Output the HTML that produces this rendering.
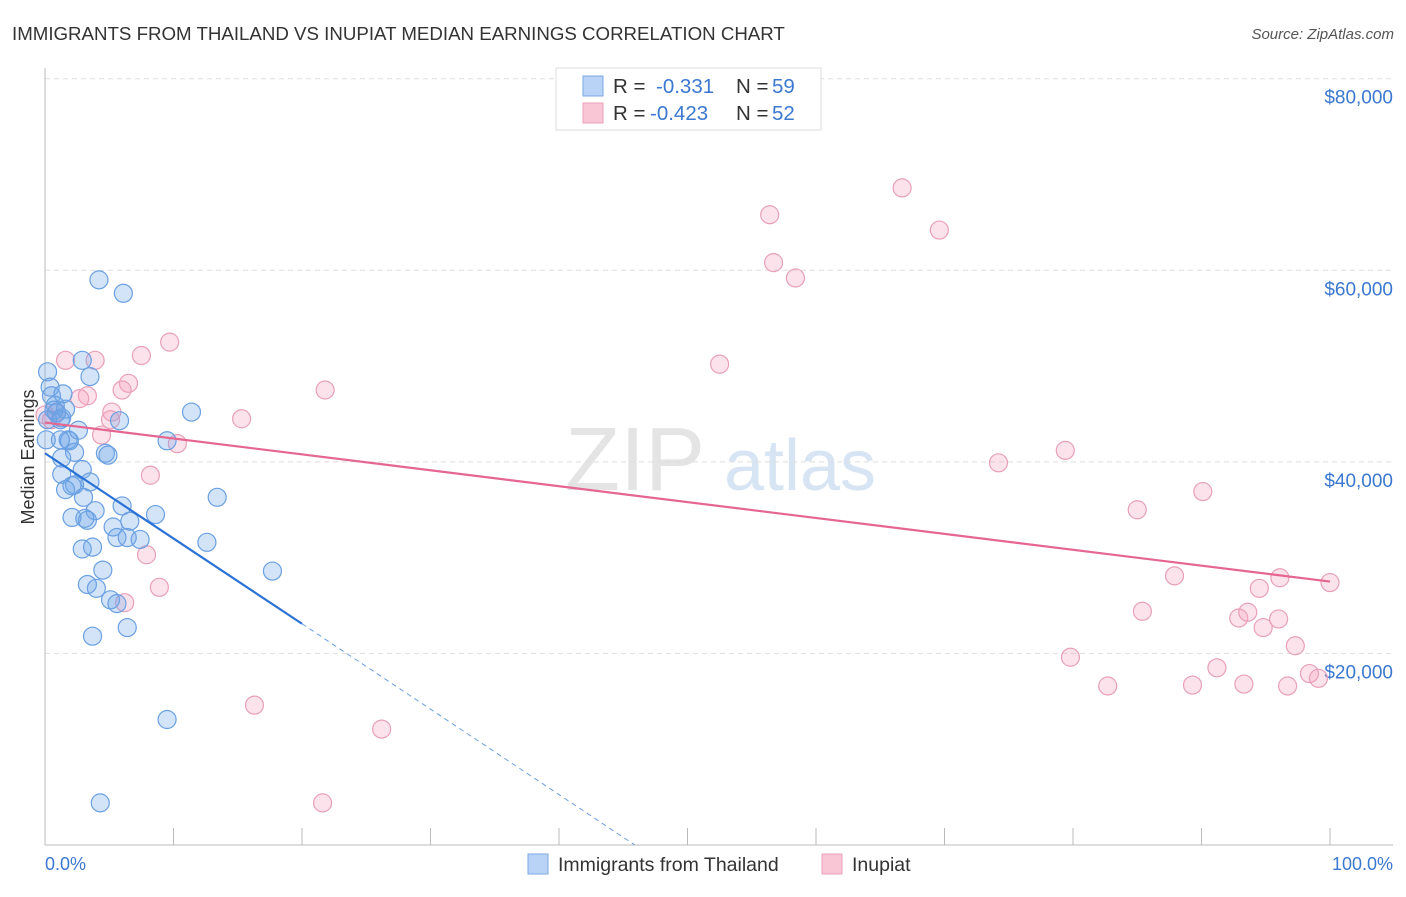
<!DOCTYPE html>
<html><head><meta charset="utf-8"><style>
body{margin:0;background:#fff;font-family:"Liberation Sans",sans-serif;}
svg text{font-family:"Liberation Sans",sans-serif;}
</style></head><body>
<svg id="c" width="1406" height="892">
<text x="12" y="40" font-size="18.7" fill="#333">IMMIGRANTS FROM THAILAND VS INUPIAT MEDIAN EARNINGS CORRELATION CHART</text>
<text x="1394" y="39" font-size="15" fill="#555" font-style="italic" text-anchor="end">Source: ZipAtlas.com</text>
<text transform="translate(34,457) rotate(-90)" font-size="18" fill="#333" text-anchor="middle">Median Earnings</text>
<g><text x="635" y="490" font-size="90" fill="#e4e4e4" font-family="Liberation Serif" text-anchor="middle">ZIP</text><text x="800" y="490" font-size="72" fill="#d6e4f4" text-anchor="middle">atlas</text></g>
<g id="grid"></g><g id="marks"></g>
<g>
<rect x="556" y="68" width="265" height="62" fill="#fff" stroke="#ddd"/>
<rect x="583" y="76" width="20" height="20" fill="#b8d3f5" stroke="#7aaae6"/>
<text x="613" y="93" font-size="20.5" fill="#333">R = </text><text x="656" y="93" font-size="20.5" fill="#3b78d0">-0.331</text>
<text x="736" y="93" font-size="20.5" fill="#333">N = </text><text x="772" y="93" font-size="20.5" fill="#3b78d0">59</text>
<rect x="583" y="103" width="20" height="20" fill="#f9c6d6" stroke="#eba0b9"/>
<text x="613" y="120" font-size="20.5" fill="#333">R = </text><text x="650" y="120" font-size="20.5" fill="#3b78d0">-0.423</text>
<text x="736" y="120" font-size="20.5" fill="#333">N = </text><text x="772" y="120" font-size="20.5" fill="#3b78d0">52</text>
</g>
<g>
<rect x="528" y="854" width="20" height="20" fill="#b8d3f5" stroke="#7aaae6"/>
<text x="558" y="871" font-size="19.5" fill="#333">Immigrants from Thailand</text>
<rect x="822" y="854" width="20" height="20" fill="#f9c6d6" stroke="#eba0b9"/>
<text x="852" y="871" font-size="19.5" fill="#333">Inupiat</text>
</g>
<text x="45" y="870" font-size="18" fill="#3b78d0">0.0%</text>
<text x="1393" y="870" font-size="18" fill="#3b78d0" text-anchor="end">100.0%</text>
</svg>
<script>
const yTicks=[20000,40000,60000,80000];
const yTickLabels=["$20,000","$40,000","$60,000","$80,000"];
const blueX=[4.2,6.1,2.9,3.5,0.2,0.4,0.5,0.8,0.9,1.2,1.3,11.4,5.8,1.8,1.9,1.2,4.7,4.9,9.5,2.3,1.3,2.9,1.3,3.5,2.3,2.1,1.6,13.4,6.0,3.9,8.6,2.1,3.1,3.3,6.6,5.3,5.6,6.4,2.9,3.7,12.6,17.7,4.5,3.3,4.0,5.1,5.6,6.4,3.7,9.5,4.3,0.2,0.7,0.1,1.6,2.6,7.4,3.0,1.4];
const blueY=[59000,57600,50600,48900,49400,47800,46900,45900,45100,44400,44600,45200,44300,42300,42200,42300,40900,40700,42200,41000,40400,39200,38700,37900,37600,37500,37100,36300,35400,34900,34500,34200,34100,33900,33800,33200,32100,32100,30900,31100,31600,28600,28700,27200,26800,25600,25200,22700,21800,13100,4400,44400,45400,42300,45500,43300,31900,36300,47100];
const pinkX=[1.6,3.9,7.5,9.7,6.5,6.0,3.3,2.7,5.1,15.3,21.8,4.4,5.2,10.3,8.2,7.9,8.9,6.2,0.5,0.9,16.3,26.2,21.6,56.4,66.7,69.6,56.7,58.4,52.5,74.2,79.4,85.0,90.1,87.9,85.4,79.8,82.7,89.3,91.2,93.3,92.9,93.6,94.5,94.8,96.0,96.1,97.3,96.7,98.4,100,99.1,0];
const pinkY=[50600,50600,51100,52500,48200,47500,46900,46600,44400,44500,47500,42800,45200,41900,38600,30300,26900,25300,44400,45200,14600,12100,4400,65800,68600,64200,60800,59200,50200,39900,41200,35000,36900,28100,24400,19600,16600,16700,18500,16800,23700,24300,26800,22700,23600,27900,20800,16600,17900,27400,17400,44900];
const blueTrend=[40900,23100,0]; const blueTrendX=[0,20,45.9];
const pinkTrend=[44100,27500]; const pinkTrendX=[0,100];
const X=p=>45+p*12.85, Y=v=>845-v/104.4;
const NS="http://www.w3.org/2000/svg";
function mk(t,a,parent){const e=document.createElementNS(NS,t);for(const k in a)e.setAttribute(k,a[k]);parent.appendChild(e);return e;}
const g=document.getElementById('grid'), m=document.getElementById('marks');
yTicks.forEach((v,i)=>{
 const l=mk('line',{x1:45,x2:1393,y1:Y(v),y2:Y(v),stroke:'#ddd','stroke-dasharray':'5,4'},g);
 
 
 const t=mk('text',{x:1393,y:Y(v)+25,'font-size':19,fill:'#3b78d0','text-anchor':'end'},g);
 t.textContent=yTickLabels[i];
 
 
});
const ax=mk('line',{x1:45,x2:1393,y1:845,y2:845,stroke:'#bbb'},g);


const ay=mk('line',{x1:45,x2:45,y1:68,y2:845,stroke:'#bbb'},g);


for(let i=0;i<=10;i++){const t=mk('line',{x1:X(i*10),x2:X(i*10),y1:828,y2:845,stroke:'#bbb'},g);
 
 }
function pts(xs,ys,fill,stroke,name){xs.forEach((x,i)=>{const c=mk('circle',{cx:X(x),cy:Y(ys[i]),r:9,fill:fill,stroke:stroke,'stroke-width':1.2},m);
 
 });}
pts(pinkX,pinkY,'rgba(244,160,190,0.3)','#e8a0b8','inupiat-point');
pts(blueX,blueY,'rgba(110,165,232,0.3)','#6aa0e2','thailand-point');
const bl=mk('line',{x1:X(blueTrendX[0]),y1:Y(blueTrend[0]),x2:X(blueTrendX[1]),y2:Y(blueTrend[1]),stroke:'#2a72d6','stroke-width':2.2},m);


const bd=mk('line',{x1:X(blueTrendX[1]),y1:Y(blueTrend[1]),x2:X(blueTrendX[2]),y2:Y(blueTrend[2]),stroke:'#6a9fe0','stroke-width':1,'stroke-dasharray':'5,4'},m);


const pl=mk('line',{x1:X(pinkTrendX[0]),y1:Y(pinkTrend[0]),x2:X(pinkTrendX[1]),y2:Y(pinkTrend[1]),stroke:'#e56690','stroke-width':2.2},m);


</script>
</body></html>
